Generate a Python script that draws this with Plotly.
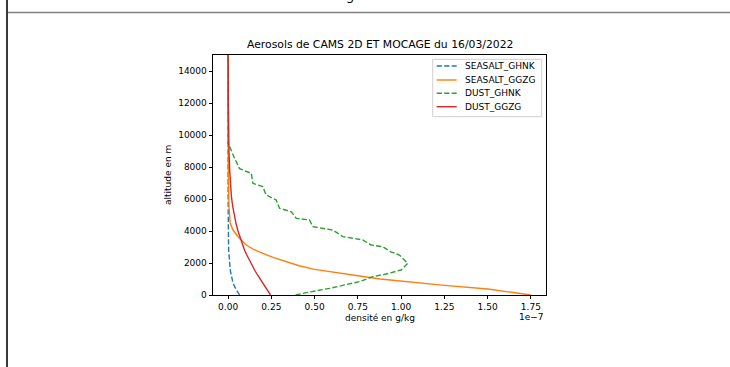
import plotly.graph_objects as go

# ---------------- data (x values in units of 1e-7 g/kg) ----------------
series_names = ["SEASALT_GHNK", "SEASALT_GGZG", "DUST_GHNK", "DUST_GGZG"]

alt_seasalt_ghnk = [0, 250, 520, 800, 1150, 1500, 1980, 2400, 2800, 3400, 4000, 5000, 6000, 15000]
seasalt_ghnk = [0.066, 0.05, 0.0375, 0.027, 0.018, 0.013, 0.009, 0.005, 0.003, 0.002, 0.001, 0.0005, 0.0, 0.0]

alt_seasalt_ggzg = [0, 150, 375, 600, 850, 1000, 1200, 1400, 1600, 1830, 2080, 2350, 2600, 2860, 3125, 3400,
                    3640, 4060, 4480, 5500, 7000, 10000, 15000]
seasalt_ggzg = [1.75, 1.64, 1.5, 1.25, 1.0, 0.88, 0.75, 0.62, 0.5, 0.41, 0.336, 0.26, 0.2, 0.145, 0.105, 0.078,
                0.057, 0.028, 0.012, 0.005, 0.002, 0.001, 0.0]

alt_dust_ghnk = [0, 145, 417, 625, 833, 1146, 1312, 1562, 1980, 2500, 2700, 3020, 3125, 3440, 3650, 4060, 4270, 4690,
                 4790, 5200, 5420, 5940, 6250, 6770, 6980, 7600, 7900, 8540, 9270, 9500, 15000]
dust_ghnk = [0.39, 0.451, 0.586, 0.682, 0.759, 0.836, 0.913, 1.0, 1.038, 0.99, 0.94, 0.894, 0.827, 0.778, 0.663, 0.605,
             0.49, 0.47, 0.394, 0.365, 0.297, 0.278, 0.22, 0.2, 0.143, 0.134, 0.066, 0.0375, 0.009, 0.0, 0.0]

alt_dust_ggzg = [0, 250, 500, 750, 1000, 1250, 1500, 1750, 2000, 2250, 2500, 2800, 3100, 3440, 3700, 4000, 4450,
                 4900, 5500, 6150, 7000, 7800, 9000, 10000, 12000, 15000]
dust_ggzg = [0.245, 0.229, 0.213, 0.198, 0.184, 0.17, 0.156, 0.143, 0.131, 0.12, 0.108, 0.095, 0.085, 0.074, 0.066,
             0.057, 0.046, 0.037, 0.027, 0.019, 0.013, 0.009, 0.005, 0.003, 0.001, 0.0]

x_ticks = [0.0, 0.25, 0.5, 0.75, 1.0, 1.25, 1.5, 1.75]
y_ticks = [0, 2000, 4000, 6000, 8000, 10000, 12000, 14000]

title = "Aerosols de CAMS 2D ET MOCAGE du 16/03/2022"
xlabel = "densité en g/kg"
ylabel = "altitude en m"
offset_text = "1e\u22127"

colors = ["#1f77b4", "#ff7f0e", "#2ca02c", "#d62728"]
dashes = ["5.2px,2.3px", "solid", "5.2px,2.3px", "solid"]

# ---------------- layout geometry ----------------
W, H = 730, 367
L, R, T, B = 213, 546, 55, 295  # plot area in pixels
FONT = "DejaVu Sans"


def xp(px):
    return (px - L) / (R - L)


def yp(py):
    return (B - py) / (B - T)


fig = go.Figure()
xs = [seasalt_ghnk, seasalt_ggzg, dust_ghnk, dust_ggzg]
ys = [alt_seasalt_ghnk, alt_seasalt_ggzg, alt_dust_ghnk, alt_dust_ggzg]
for name, x, y, c, d in zip(series_names, xs, ys, colors, dashes):
    fig.add_trace(go.Scatter(x=x, y=y, mode="lines", name=name, showlegend=False,
                             line=dict(color=c, width=1.4, dash=d)))

shapes = []
annotations = []

# legend (matplotlib style)
shapes.append(dict(type="rect", xref="paper", yref="paper",
                   x0=xp(432.7), x1=xp(541.7), y0=yp(116.7), y1=yp(59.3),
                   line=dict(color="#d0d0d0", width=1), fillcolor="rgba(255,255,255,0.8)", layer="above"))
rows = [66, 80, 93.3, 106.7]
for name, c, d, ry in zip(series_names, colors, dashes, rows):
    shapes.append(dict(type="line", xref="paper", yref="paper",
                       x0=xp(436.7), x1=xp(456.7), y0=yp(ry), y1=yp(ry),
                       line=dict(color=c, width=1.4, dash=d), layer="above"))
    annotations.append(dict(text=name, xref="paper", yref="paper", x=xp(463.3), y=yp(ry),
                            xanchor="left", yanchor="middle", showarrow=False,
                            font=dict(family=FONT, size=9, color="#000")))

# axis labels, offset text, title
annotations.append(dict(text=xlabel, xref="paper", yref="paper", x=xp((L + R) / 2), y=yp(318),
                        xanchor="center", yanchor="middle", showarrow=False,
                        font=dict(family=FONT, size=9, color="#000")))
annotations.append(dict(text=ylabel, xref="paper", yref="paper", x=xp(168), y=yp((T + B) / 2),
                        xanchor="center", yanchor="middle", showarrow=False, textangle=-90,
                        font=dict(family=FONT, size=9, color="#000")))
annotations.append(dict(text=offset_text, xref="paper", yref="paper", x=xp(546), y=yp(317),
                        xanchor="right", yanchor="middle", showarrow=False,
                        font=dict(family=FONT, size=9, color="#000")))
annotations.append(dict(text=title, xref="paper", yref="paper", x=xp((L + R) / 2), y=yp(45),
                        xanchor="center", yanchor="middle", showarrow=False,
                        font=dict(family=FONT, size=10.8, color="#000")))
# cut-off heading glyph at the very top of the page (as in the reference)
annotations.append(dict(text="g", xref="paper", yref="paper", x=xp(350), y=yp(-5),
                        xanchor="center", yanchor="middle", showarrow=False,
                        font=dict(family=FONT, size=13, color="#000")))

# page frame lines
shapes.append(dict(type="line", xref="paper", yref="paper",
                   x0=xp(7), x1=xp(730), y0=yp(12.5), y1=yp(12.5),
                   line=dict(color="#808080", width=1.5)))
shapes.append(dict(type="line", xref="paper", yref="paper",
                   x0=xp(7), x1=xp(7), y0=yp(0), y1=yp(367),
                   line=dict(color="#3a3a3a", width=2)))

axis_common = dict(showgrid=False, zeroline=False, showline=True, linecolor="#000", linewidth=0.8,
                   mirror=True, ticks="outside", ticklen=3.5, tickwidth=0.8, tickcolor="#000",
                   tickfont=dict(family=FONT, size=9, color="#000"))

fig.update_layout(
    width=W, height=H, autosize=False,
    margin=dict(l=L, r=W - R, t=T, b=H - B, pad=0),
    paper_bgcolor="white", plot_bgcolor="white",
    shapes=shapes, annotations=annotations,
    xaxis=dict(range=[-0.0875, 1.8375], tickvals=x_ticks, tickformat=".2f", **axis_common),
    yaxis=dict(range=[0, 15000], tickvals=y_ticks, tickformat="d", **axis_common),
)

fig.write_html("out.html")
